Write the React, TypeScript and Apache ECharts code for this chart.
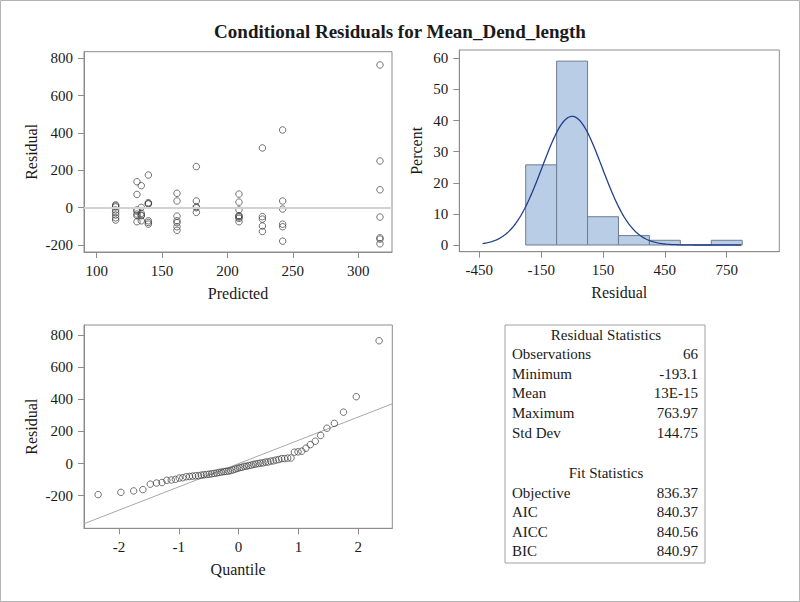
import React, { useEffect, useRef } from "react";
import * as echarts from "echarts";

const TITLE = "Conditional Residuals for Mean_Dend_length";

// Residual vs Predicted: fitted value of each group and the residuals at it
const fittedGroups = [114.5, 130.8, 134.1, 139.5, 161.4, 176.2, 208.8, 226.7, 242.2, 316.6];
const groupResiduals = [
  [15, 10, 4, -12, -25, -39, -54, -66],
  [139, 71, -12, -18, -34, -43, -75],
  [118, 2, -30, -40, -43, -70],
  [175, 27, 22, 20, -70, -79, -88],
  [77, 36, -45, -70, -80, -102, -121],
  [220, 36, 5, 0, -25],
  [73, 30, -12, -43, -45, -50, -57, -75],
  [320, -48, -61, -98, -127],
  [416, 36, -7, -88, -102, -179],
  [763.97, 250, 96, -50, -161, -168, -193.1],
];
const scatterXTicks = [100, 150, 200, 250, 300];
const residualTicks = [-200, 0, 200, 400, 600, 800];

// Histogram of residuals
const binMidpoints = [-150, 0, 150, 300, 450, 600, 750];
const binPercent = [25.76, 59.09, 9.09, 3.03, 1.52, 0, 1.52];
const BIN_WIDTH = 150;
const histXTicks = [-450, -150, 150, 450, 750];
const percentTicks = [0, 10, 20, 30, 40, 50, 60];

// Q-Q plot: normal quantiles and sorted residuals
const normalQuantiles = [
  -2.349, -1.968, -1.754, -1.601, -1.477, -1.372, -1.282, -1.2, -1.126, -1.057,
  -0.993, -0.933, -0.876, -0.821, -0.769, -0.72, -0.672, -0.625, -0.58, -0.536,
  -0.492, -0.45, -0.408, -0.367, -0.327, -0.287, -0.248, -0.21, -0.171, -0.133,
  -0.095, -0.057, -0.019, 0.019, 0.057, 0.095, 0.133, 0.171, 0.21, 0.248,
  0.287, 0.327, 0.367, 0.408, 0.45, 0.492, 0.536, 0.58, 0.625, 0.672,
  0.72, 0.769, 0.821, 0.876, 0.933, 0.993, 1.057, 1.126, 1.2, 1.282,
  1.372, 1.477, 1.601, 1.754, 1.968, 2.349,
];
const sortedResiduals = [
  -193.1, -179, -170, -162, -128, -121, -118, -104, -102, -98,
  -90, -88, -82, -80, -78, -76, -75.5, -72, -70, -68,
  -66, -64, -61, -59, -55, -53, -50, -48, -47, -44,
  -39, -35, -30, -25, -23, -17, -17, -12, -10, -5,
  -3, 0, 3, 4, 9, 10, 15, 17, 22, 25,
  31, 31, 34, 35, 71, 73, 77, 96, 118, 139,
  175, 220, 250, 320, 416, 763.97,
];
const quantileTicks = [-2, -1, 0, 1, 2];

// Statistics table
const MEAN = 0;
const STD_DEV = 144.75;
const residualStatLabels = ["Observations", "Minimum", "Mean", "Maximum", "Std Dev"];
const residualStatValues = ["66", "-193.1", "13E-15", "763.97", "144.75"];
const fitStatLabels = ["Objective", "AIC", "AICC", "BIC"];
const fitStatValues = ["836.37", "840.37", "840.56", "840.97"];

const FONT = '"Liberation Serif", "Times New Roman", Times, serif';
const TEXT = "#1a1a1a";
const FRAME = "#8c8c8c";

function axis(gridIndex: number, min: number, max: number, ticks: number[], name: string, nameGap: number) {
  return {
    type: "value",
    gridIndex,
    min,
    max,
    name,
    nameLocation: "middle",
    nameGap,
    nameTextStyle: { fontFamily: FONT, fontSize: 16, color: TEXT },
    axisLine: { show: true, onZero: false, lineStyle: { color: FRAME, width: 1 } },
    axisTick: { show: true, length: 6, customValues: ticks, lineStyle: { color: FRAME } },
    axisLabel: { customValues: ticks, fontFamily: FONT, fontSize: 15, color: TEXT, margin: 11 },
    splitLine: { show: false },
  };
}

function text(x: number, y: number, t: string, align: string, size = 15, bold = false) {
  return {
    type: "text",
    x,
    y,
    style: {
      text: t,
      fontFamily: FONT,
      fontSize: size,
      fontWeight: bold ? "bold" : "normal",
      fill: TEXT,
      align,
      verticalAlign: "middle",
      textAlign: align,
      textVerticalAlign: "middle",
    },
  };
}

export default function App() {
  const ref = useRef<HTMLDivElement>(null);

  useEffect(() => {
    if (!ref.current) return;
    const chart = echarts.init(ref.current, null, { renderer: "svg" });

    const scatterData: number[][] = [];
    fittedGroups.forEach((fx, i) => {
      groupResiduals[i].forEach((r) => scatterData.push([fx, r]));
    });

    const histData = binMidpoints.map((m, i) => [m, binPercent[i]]);

    const densityPeak = (BIN_WIDTH * 100) / (STD_DEV * Math.sqrt(2 * Math.PI));
    const curve: number[][] = [];
    for (let x = MEAN - 3 * STD_DEV; x <= 825; x += 5) {
      const z = (x - MEAN) / STD_DEV;
      curve.push([x, densityPeak * Math.exp(-0.5 * z * z)]);
    }

    const qqData = normalQuantiles.map((q, i) => [q, sortedResiduals[i]]);
    const qMin = -2.585;
    const qMax = 2.57;
    const refLine = [
      [qMin, MEAN + STD_DEV * qMin],
      [qMax, MEAN + STD_DEV * qMax],
    ];

    const graphics: any[] = [
      {
        type: "rect",
        shape: { x: 0.5, y: 0.5, width: 799, height: 601 },
        style: { fill: "none", stroke: "#b4b4b4", lineWidth: 1 },
      },
      text(400, 31, TITLE, "center", 19, true),
      {
        type: "rect",
        shape: { x: 505, y: 325, width: 200, height: 238 },
        style: { fill: "#fff", stroke: "#a0a0a0", lineWidth: 1 },
      },
      text(606, 335, "Residual Statistics", "center"),
      text(606, 473, "Fit Statistics", "center"),
    ];
    const rowY1 = [354.3, 374, 393.3, 413.3, 433.3];
    residualStatLabels.forEach((l, i) => {
      graphics.push(text(512, rowY1[i], l, "left"));
      graphics.push(text(698, rowY1[i], residualStatValues[i], "right"));
    });
    const rowY2 = [492.7, 512.3, 531.7, 551];
    fitStatLabels.forEach((l, i) => {
      graphics.push(text(512, rowY2[i], l, "left"));
      graphics.push(text(698, rowY2[i], fitStatValues[i], "right"));
    });

    const option: any = {
      animation: false,
      backgroundColor: "#fff",
      grid: [
        { left: 84, top: 51.7, width: 308, height: 200.3, show: true, borderColor: FRAME, borderWidth: 1 },
        { left: 459.3, top: 50, width: 320, height: 201.7, show: true, borderColor: FRAME, borderWidth: 1 },
        { left: 84, top: 325, width: 308.3, height: 203.3, show: true, borderColor: FRAME, borderWidth: 1 },
      ],
      xAxis: [
        axis(0, 90.3, 325.8, scatterXTicks, "Predicted", 33),
        axis(1, -547, 1005, histXTicks, "Residual", 33),
        axis(2, qMin, qMax, quantileTicks, "Quantile", 33),
      ],
      yAxis: [
        axis(0, -237, 835, residualTicks, "Residual", 45),
        axis(1, -2.15, 62.67, percentTicks, "Percent", 35),
        axis(2, -402.6, 862, residualTicks, "Residual", 45),
      ],
      series: [
        {
          type: "scatter",
          xAxisIndex: 0,
          yAxisIndex: 0,
          data: scatterData,
          symbol: "circle",
          symbolSize: 6.5,
          itemStyle: { color: "rgba(0,0,0,0)", borderColor: "#3c3c3c", borderWidth: 0.9 },
          markLine: {
            silent: true,
            symbol: "none",
            label: { show: false },
            lineStyle: { color: "#d2d2d2", width: 1.8, type: "solid" },
            data: [{ yAxis: 0 }],
          },
          z: 3,
        },
        {
          type: "custom",
          xAxisIndex: 1,
          yAxisIndex: 1,
          data: histData,
          encode: { x: 0, y: 1 },
          renderItem: (params: any, api: any) => {
            const mid = api.value(0);
            const h = api.value(1);
            const p0 = api.coord([mid - BIN_WIDTH / 2, h]);
            const p1 = api.coord([mid + BIN_WIDTH / 2, 0]);
            return {
              type: "rect",
              shape: { x: p0[0], y: p0[1], width: p1[0] - p0[0], height: p1[1] - p0[1] },
              style: { fill: "#b9cde6", stroke: "#6f7c90", lineWidth: 1 },
            };
          },
          z: 2,
        },
        {
          type: "line",
          xAxisIndex: 1,
          yAxisIndex: 1,
          data: curve,
          showSymbol: false,
          symbol: "none",
          lineStyle: { color: "#213f8a", width: 1.3 },
          z: 4,
        },
        {
          type: "line",
          xAxisIndex: 2,
          yAxisIndex: 2,
          data: refLine,
          showSymbol: false,
          symbol: "none",
          lineStyle: { color: "#a8a8a8", width: 1 },
          z: 2,
        },
        {
          type: "scatter",
          xAxisIndex: 2,
          yAxisIndex: 2,
          data: qqData,
          symbol: "circle",
          symbolSize: 6.5,
          itemStyle: { color: "rgba(0,0,0,0)", borderColor: "#3c3c3c", borderWidth: 0.9 },
          z: 3,
        },
      ],
      graphic: { elements: graphics },
    };

    chart.setOption(option);
    return () => chart.dispose();
  }, []);

  return (
    <div
      ref={ref}
      style={{ position: "fixed", left: 0, top: 0, width: 800, height: 602, background: "#fff" }}
    />
  );
}
